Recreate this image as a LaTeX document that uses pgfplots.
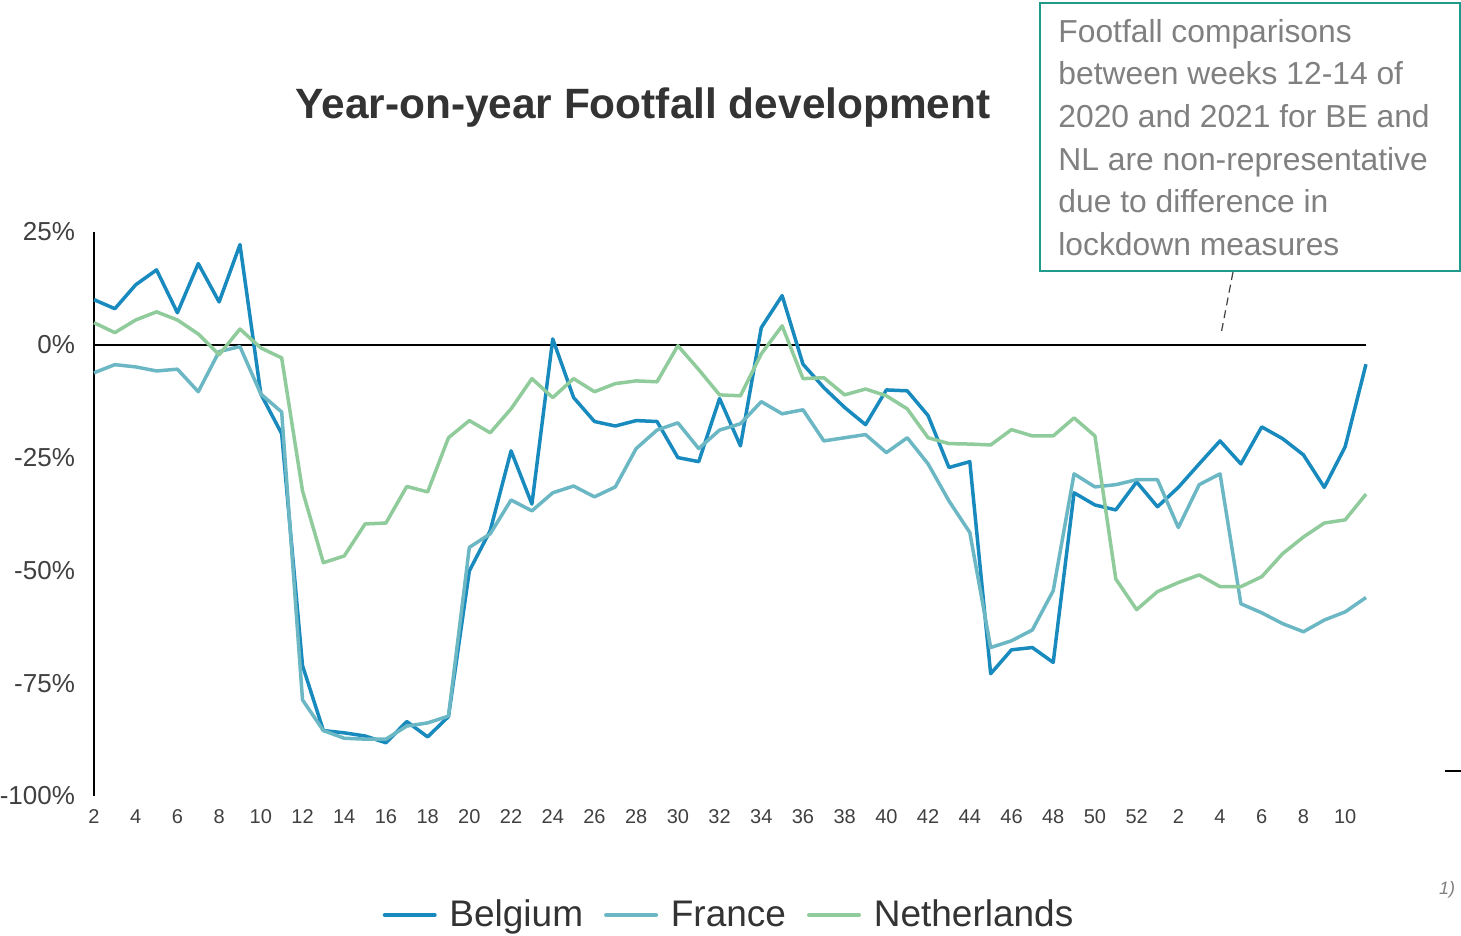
\documentclass[border=0pt]{standalone}
\usepackage{fontspec}
\setmainfont{Liberation Sans}
\usepackage{pgfplots}
\usepackage{pgfplotstable}
\pgfplotsset{compat=1.18}
\definecolor{cBE}{RGB}{24,138,190}
\definecolor{cFR}{RGB}{108,183,196}
\definecolor{cNL}{RGB}{143,203,155}
\definecolor{boxteal}{RGB}{31,155,140}
\definecolor{notegray}{RGB}{128,128,128}
\definecolor{titlegray}{RGB}{51,51,51}
\definecolor{tickgray}{RGB}{64,64,64}
\pgfplotstableread{
x BE FR NL
0 10.0 -6.2 4.9
1 8.0 -4.4 2.7
2 13.3 -4.9 5.5
3 16.6 -5.8 7.3
4 7.1 -5.4 5.5
5 18.0 -10.4 2.4
6 9.5 -1.5 -2.2
7 22.2 -0.4 3.5
8 -10.9 -10.9 -0.7
9 -19.7 -14.9 -2.9
10 -71.1 -78.7 -32.4
11 -85.5 -85.5 -48.3
12 -86.0 -87.2 -46.8
13 -86.7 -87.4 -39.7
14 -88.2 -87.4 -39.5
15 -83.5 -84.5 -31.4
16 -86.9 -83.8 -32.6
17 -82.4 -82.3 -20.6
18 -50.1 -44.9 -16.8
19 -41.2 -41.9 -19.5
20 -23.5 -34.4 -14.2
21 -35.3 -36.8 -7.5
22 1.3 -32.8 -11.7
23 -11.7 -31.3 -7.5
24 -17.0 -33.7 -10.4
25 -18.0 -31.5 -8.6
26 -16.8 -23.0 -8.0
27 -17.0 -18.9 -8.2
28 -25.0 -17.3 -0.2
29 -25.9 -23.0 -5.5
30 -11.9 -18.9 -11.1
31 -22.4 -17.5 -11.3
32 3.8 -12.6 -2.0
33 10.9 -15.3 4.2
34 -4.3 -14.4 -7.5
35 -9.5 -21.3 -7.3
36 -13.9 -20.6 -11.1
37 -17.7 -19.9 -9.8
38 -10.0 -23.9 -11.3
39 -10.2 -20.6 -14.2
40 -15.7 -26.4 -20.6
41 -27.2 -34.6 -21.9
42 -25.9 -41.6 -22.0
43 -72.9 -67.1 -22.2
44 -67.6 -65.6 -18.8
45 -67.1 -63.2 -20.2
46 -70.4 -54.5 -20.2
47 -32.8 -28.6 -16.2
48 -35.5 -31.5 -20.2
49 -36.6 -31.0 -51.9
50 -30.4 -29.9 -58.7
51 -35.9 -29.9 -54.7
52 -31.6 -40.5 -52.7
53 -26.4 -31.0 -51.0
54 -21.3 -28.6 -53.6
55 -26.4 -57.4 -53.6
56 -18.2 -59.4 -51.4
57 -20.8 -61.8 -46.3
58 -24.4 -63.6 -42.6
59 -31.6 -61.0 -39.5
60 -22.6 -59.2 -38.8
61 -4.3 -56.0 -33.1
}\datatable
\begin{document}
\begin{tikzpicture}
\useasboundingbox (0,0) rectangle (730.5pt,468pt);
\begin{axis}[
  at={(47pt,70pt)}, anchor=south west,
  scale only axis, width=636pt, height=282pt,
  xmin=0, xmax=61, ymin=-100, ymax=25,
  axis line style={draw=none},
  major tick length=0pt,
  clip=false,
  xtick={0,2,...,60},
  xticklabels={2,4,6,8,10,12,14,16,18,20,22,24,26,28,30,32,34,36,38,40,42,44,46,48,50,52,2,4,6,8,10},
  ytick={-100,-75,-50,-25,0,25},
  yticklabels={-100\%,-75\%,-50\%,-25\%,0\%,25\%},
  xticklabel style={font=\fontsize{10}{12}\selectfont, text=tickgray, text height=7.3pt, text depth=0pt, yshift=-3pt},
  yticklabel style={font=\fontsize{13}{15}\selectfont, text=tickgray, xshift=-6pt},
  legend columns=3,
  legend style={at={(0.5,-0.211)}, anchor=center, draw=none, fill=none,
    font=\fontsize{18.5}{21}\selectfont, text=titlegray,
    /tikz/every even column/.append style={column sep=8.5pt}},
  legend image code/.code={\draw[#1, line width=2pt, line cap=round] (0pt,0pt) -- (25pt,0pt); \path (29.5pt,0pt);},
  every axis plot/.append style={line width=1.75pt, line join=round},
]
\draw[line width=1pt, black] (axis cs:0,0) -- (axis cs:61,0);
\draw[line width=1.2pt, black] (axis cs:0,-100) -- (axis cs:0,25);
\addplot[cBE] table[x=x, y=BE] {\datatable};
\addlegendentry{Belgium}
\addplot[cFR] table[x=x, y=FR] {\datatable};
\addlegendentry{France}
\addplot[cNL] table[x=x, y=NL] {\datatable};
\addlegendentry{Netherlands}
\end{axis}
\node[font=\bfseries\fontsize{21.2}{24}\selectfont, text=titlegray] at (321.5pt,414pt) {Year-on-year Footfall development};
\draw[boxteal, line width=1pt] (520pt,332.5pt) rectangle (730pt,466.5pt);
\node[anchor=north west, inner sep=0pt, align=left, text=notegray, font=\fontsize{15.9}{21.3}\selectfont] at (529pt,458.6pt) {Footfall comparisons\\between weeks 12-14 of\\2020 and 2021 for BE and\\NL are non-representative\\due to difference in\\lockdown measures};
\draw[tickgray, line width=0.6pt, dash pattern=on 4pt off 2.5pt] (616.5pt,332pt) -- (610.5pt,301pt);
\draw[black, line width=1pt] (722.5pt,82.5pt) -- (730.5pt,82.5pt);
\node[font=\itshape\fontsize{9}{10}\selectfont, text=notegray] at (723.5pt,23pt) {1)};
\end{tikzpicture}
\end{document}
